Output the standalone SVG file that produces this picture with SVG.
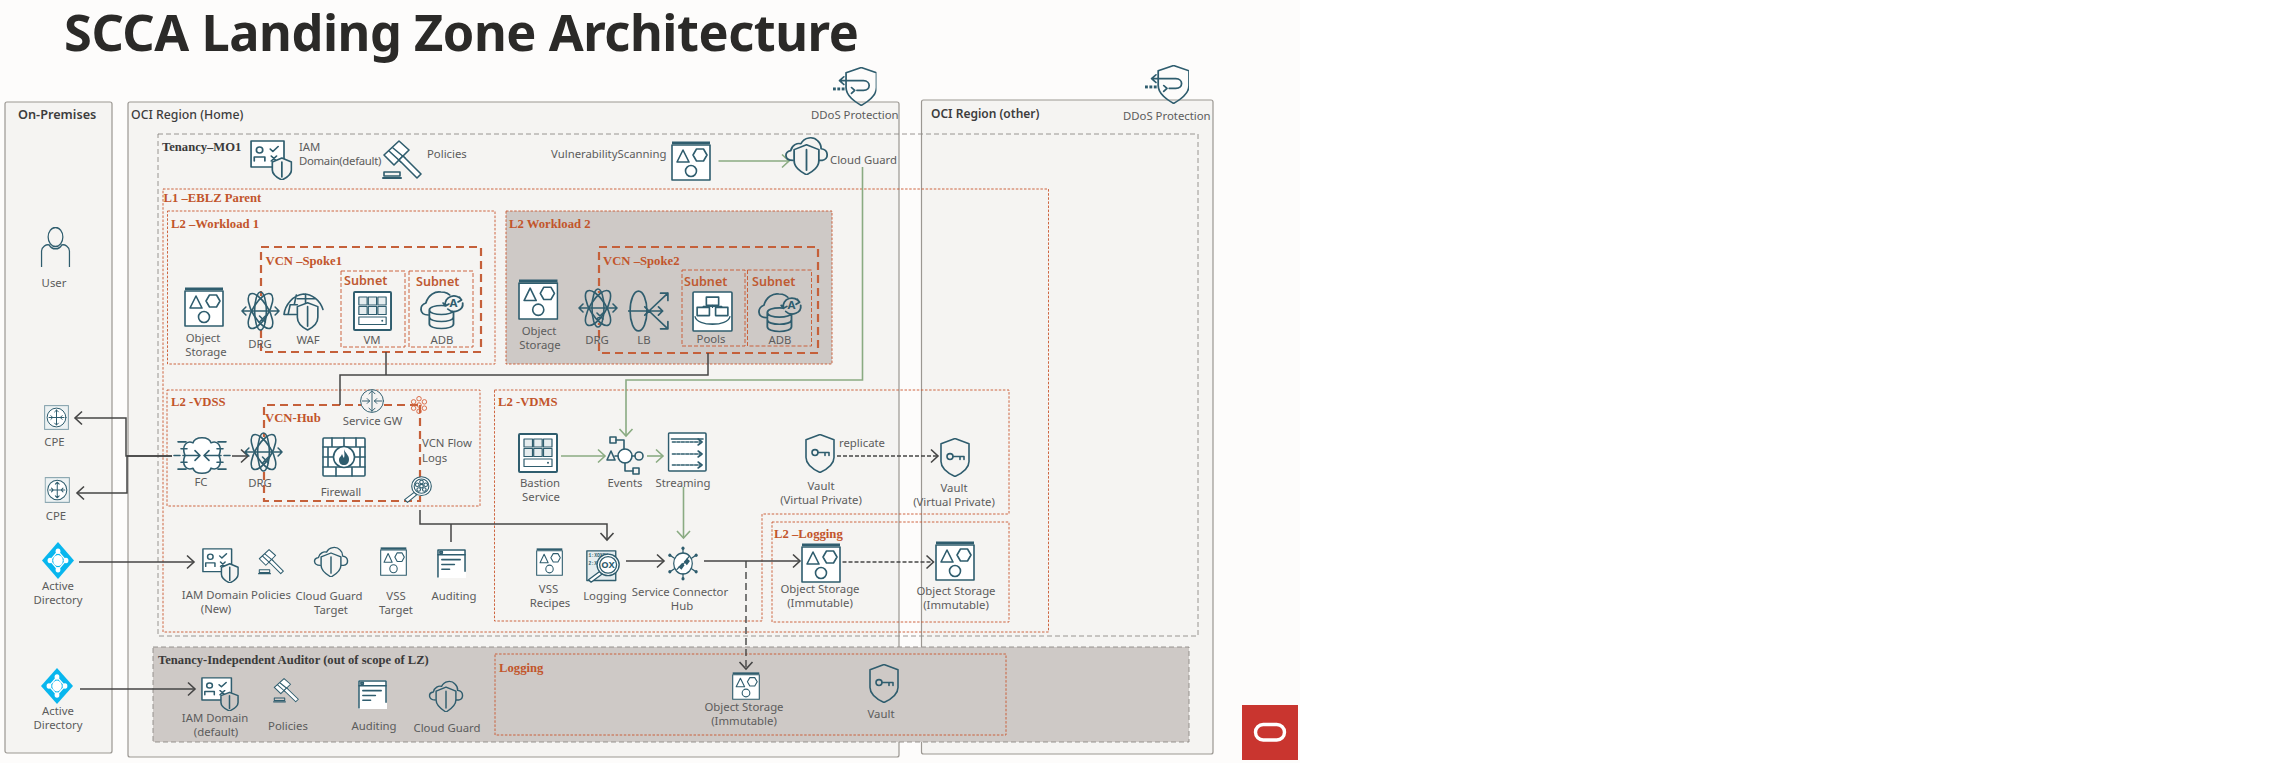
<svg xmlns="http://www.w3.org/2000/svg" width="2281" height="763" viewBox="0 0 2281 763">
<style>
.i{fill:none;stroke:#2f5d6e;stroke-width:1.6;stroke-linejoin:round;stroke-linecap:round}
.w{fill:#fff}.u{fill:currentColor;stroke:none}.f{fill:#2f5d6e;stroke:none}.c{fill:#e6edef}
.t{font:11.35px "Noto Sans","Open Sans",sans-serif;fill:#5c5c5c}
.m{text-anchor:middle}
.h{font:600 12.7px "Noto Sans","Open Sans",sans-serif;fill:#3d3d3d}
.o{font:bold 12.7px "Liberation Serif","Times New Roman",serif;fill:#c2552b}
.s{font:600 12.6px "Noto Sans","Open Sans",sans-serif;fill:#bf5a32}
.k{font:bold 12.6px "Liberation Serif","Times New Roman",serif;fill:#3a3a3a}
.tt{font:bold 50.5px "Noto Sans","Open Sans",sans-serif;fill:#2b2a28;letter-spacing:-.45px}
.panel{fill:#f5f4f2;stroke:#9b9792;stroke-width:1.2}
.ten{fill:none;stroke:#8f8b87;stroke-width:.9;stroke-dasharray:5 3}
.aud{fill:#cec9c6;stroke:#8f8b87;stroke-width:.9;stroke-dasharray:5 3}
.dot{fill:none;stroke:#c9562c;stroke-width:.9;stroke-dasharray:2.5 1.6}
.dg{fill:#cec9c6;stroke:#c9562c;stroke-width:.9;stroke-dasharray:2.5 1.6}
.dsh{fill:none;stroke:#c9562c;stroke-width:.9;stroke-dasharray:4 2}
.vcn{fill:none;stroke:#c5603a;stroke-width:2.2;stroke-dasharray:8 5}
.ln{fill:none;stroke:#454545;stroke-width:1.5}
.gl{fill:none;stroke:#8aab82;stroke-width:1.6}
.da{fill:none;stroke:#454545;stroke-width:1.4;stroke-dasharray:4 2}
.g{color:#cec9c6}.p{color:#f5f4f2}
</style>
<defs>
<marker id="ma" markerUnits="userSpaceOnUse" markerWidth="12" markerHeight="16" refX="9" refY="8" orient="auto"><path d="M2 1.5 L9 8 L2 14.500" fill="none" stroke="#454545" stroke-width="1.6"/></marker>
<marker id="mg" markerUnits="userSpaceOnUse" markerWidth="12" markerHeight="16" refX="9" refY="8" orient="auto"><path d="M2 1.5 L9 8 L2 14.500" fill="none" stroke="#8aab82" stroke-width="1.6"/></marker>
<symbol id="s-os" viewBox="0 0 40 40" preserveAspectRatio="none"><g class="i"><rect class="w" x="1" y="4" width="38" height="35"/><rect class="f" x="1" y=".5" width="38" height="2.600"/><path d="M6 21 12 9 18 21Z"/><path d="M22 14l3.500-6h7l3.500 6-3.500 6h-7z"/><circle cx="20" cy="30" r="5.500"/></g></symbol>
<symbol id="s-drg" viewBox="0 0 40 40" preserveAspectRatio="none"><g class="i"><circle class="u" cx="20" cy="20" r="15"/><ellipse cx="20" cy="20" rx="8" ry="20" transform="rotate(32 20 20)"/><ellipse cx="20" cy="20" rx="8" ry="20" transform="rotate(-32 20 20)"/><ellipse cx="20" cy="20" rx="6" ry="19"/><path d="M1 20H39M5 16 1 20 5 24M35 16 39 20 35 24M19 25l6 6m0-6-6 6"/></g></symbol>
<symbol id="s-waf" viewBox="0 0 40 40" preserveAspectRatio="none"><g class="i"><path d="M1 23C2 13 10 3 20 2 28 2 36 8 39 18M1 23H13M7 13H14M13 3 11 13M7 13 5 23M22 2V11M14 7H32"/><path class="u" d="M24 11 34 15V26C34 33 28 37 24 39 20 37 14 33 14 26V15Z"/><path d="M24 11 34 15V26C34 33 28 37 24 39 20 37 14 33 14 26V15ZM24 15V35"/></g></symbol>
<symbol id="s-vm" viewBox="0 0 40 40" preserveAspectRatio="none"><g class="i"><rect class="w" x="1" y="1" width="38" height="38" rx="1" stroke-width="2"/><g stroke-width="1.200"><rect class="c" x="6" y="6" width="8.500" height="8"/><rect class="c" x="15.700" y="6" width="8.500" height="8"/><rect class="c" x="25.500" y="6" width="8.500" height="8"/><rect class="c" x="6" y="15.500" width="8.500" height="8"/><rect class="c" x="15.700" y="15.500" width="8.500" height="8"/><rect class="c" x="25.500" y="15.500" width="8.500" height="8"/><rect x="6" y="26" width="28" height="7.500"/></g><circle class="f" cx="30" cy="29.700" r="1"/></g></symbol>
<symbol id="s-adb" viewBox="0 0 40 40" preserveAspectRatio="none"><g class="i"><path d="M8 25C0 25 0 15 6 13 8 5 14 1 19 2 24 2 27 5 28 7"/><path class="u" d="M9 20C9 14 30 14 30 20V34C30 40 9 40 9 34Z"/><path d="M9 20C9 14 30 14 30 20 30 26 9 26 9 20ZM9 20V34C9 40 30 40 30 34V20M9 27C9 33 30 33 30 27"/><path class="u" d="M22 13A8 8 0 0 1 38 13 8 8 0 0 1 22 13"/><path d="M23 15A7.500 7.500 0 0 1 37 10M38 13A7.500 7.500 0 0 1 25 19M35 7 37 10 34 12M21 13 23 16 26 14"/></g><text x="30" y="17" text-anchor="middle" style="font:bold 10px 'Noto Sans',sans-serif;fill:#2f5d6e">A</text></symbol>
<symbol id="s-lb" viewBox="0 0 40 40" preserveAspectRatio="none"><g class="i"><ellipse cx="10" cy="20" rx="8" ry="19"/><path d="M0 20H20M16 16 20 20 16 24M20 20 38 3M31 3H38V10M20 20 38 37M31 37H38V30M20 20H33M29 16 33 20 29 24"/></g></symbol>
<symbol id="s-pools" viewBox="0 0 40 40" preserveAspectRatio="none"><g class="i"><rect class="w" x="1" y="1" width="38" height="38" rx="1"/><rect x="14" y="6" width="12" height="8"/><rect x="5" y="16" width="12" height="8"/><rect x="23" y="16" width="12" height="8"/><path d="M20 14V16M11 16V15H29V16M3 25C5 35 35 35 37 25M14 32H26" stroke-width="1.300"/></g></symbol>
<symbol id="s-iam" viewBox="0 0 40 40" preserveAspectRatio="none"><g class="i"><rect class="w" x="1" y="1" width="31" height="26"/><circle cx="9" cy="10" r="3"/><path d="M4 21V17H14V21"/><path d="M19 9l2.500 2.500 5-5M20 16l5 5m0-5-5 5"/><path class="u" d="M30 18l9 4v8c0 5-5 8-9 10-4-2-9-5-9-10v-8z"/><path d="M30 18l9 4v8c0 5-5 8-9 10-4-2-9-5-9-10v-8zM30 22V37"/></g></symbol>
<symbol id="s-ham" viewBox="0 0 40 40" preserveAspectRatio="none"><g class="i"><path class="w" d="M2 15 17 1 27 10 12 25Z"/><path d="M7 11 19 22M11 8 23 18"/><path class="w" d="M17 20 21 16 39 34 35 38Z"/><rect x="2" y="32" width="16" height="4"/><path d="M1 38H19" stroke-width="2"/></g></symbol>
<symbol id="s-cg" viewBox="0 0 40 40" preserveAspectRatio="none"><g class="i"><path d="M8 25C0 25 0 16 6 15 7 9 12 7 15 8 18 1 26 0 30 5 33 8 33 11 33 13 40 14 40 24 34 25H30"/><path class="u" d="M20 9 31 14V25C31 33 24 37 20 40 16 37 9 33 9 25V14Z"/><path d="M20 9 31 14V25C31 33 24 37 20 40 16 37 9 33 9 25V14ZM20 14V35"/></g></symbol>
<symbol id="s-ddos" viewBox="0 0 40 40" preserveAspectRatio="none"><g class="i"><path d="M26 .5 40 6V21C40 30 31 36 26 39.500 21 36 12 30 12 21V6Z"/><path d="M6 14H28C35 14 35 24 28 24H22M10 10 6 14 10 18M17 21 20 24 17 27"/><rect class="f" x="0" y="21" width="2.600" height="3"/><rect class="f" x="4" y="21" width="2.600" height="3"/><rect class="f" x="8" y="21" width="2.600" height="3"/></g></symbol>
<symbol id="s-user" viewBox="0 0 40 40" preserveAspectRatio="none"><g class="i"><circle cx="20" cy="10" r="9.500"/><path d="M2 40V24C2 20 8 17 12 18 15 23 25 23 28 18 32 17 38 20 38 24V40"/></g></symbol>
<symbol id="s-cpe" viewBox="0 0 40 40" preserveAspectRatio="none"><rect x="1" y="1" width="38" height="38" fill="#edf2f3" stroke="#7f9ea9" stroke-width="1.600"/><g class="i"><circle class="w" cx="20" cy="20" r="15"/><path d="M20 8V32M8 20H32M17 11 20 8 23 11M17 29 20 32 23 29M11 17 14 20 11 23M29 17 26 20 29 23"/></g></symbol>
<symbol id="s-ad" viewBox="0 0 40 40" preserveAspectRatio="none"><path d="M20 0 40 20 20 40 0 20Z" fill="#08b6ee"/><path d="M20 10 30 20 20 30 10 20Z" fill="none" stroke="#fff" stroke-width="1.500"/><circle cx="20" cy="20" r="6" fill="#fff"/><circle cx="20" cy="10" r="3" fill="#fff"/><circle cx="20" cy="30" r="3" fill="#fff"/><circle cx="10" cy="20" r="3" fill="#fff"/><circle cx="30" cy="20" r="3" fill="#fff"/></symbol>
<symbol id="s-sgw" viewBox="0 0 40 40" preserveAspectRatio="none"><g class="i"><circle class="u" cx="20" cy="20" r="19"/><circle cx="20" cy="20" r="19"/><path d="M20 3V37M15 8 20 3 25 8M15 32 20 37 25 32M4 20H16M12 16 16 20 12 24M36 20H24M28 16 24 20 28 24"/></g></symbol>
<symbol id="s-fl" viewBox="0 0 40 40" preserveAspectRatio="none"><g fill="none" stroke="#d9613a" stroke-width="2"><circle cx="20" cy="20" r="5"/><circle cx="20" cy="6" r="5"/><circle cx="32" cy="13" r="5"/><circle cx="32" cy="27" r="5"/><circle cx="20" cy="34" r="5"/><circle cx="8" cy="27" r="5"/><circle cx="8" cy="13" r="5"/></g></symbol>
<symbol id="s-mag" viewBox="0 0 40 40" preserveAspectRatio="none"><g class="i"><path class="w" d="M15 24 1 35 5 39 18 28Z"/><circle class="w" cx="25" cy="15" r="14"/><circle cx="25" cy="15" r="10.500"/><circle cx="25" cy="15" r="2.600"/><circle cx="25" cy="9" r="2.600"/><circle cx="31" cy="13" r="2.600"/><circle cx="29" cy="20" r="2.600"/><circle cx="21" cy="20" r="2.600"/><circle cx="19" cy="13" r="2.600"/></g></symbol>
<symbol id="s-fc" viewBox="0 0 58 40" preserveAspectRatio="none"><g class="i"><path class="w" d="M20 7C22 0 36 0 38 7 44 4 50 10 46 20 50 30 44 36 38 33 36 40 22 40 20 33 14 36 8 30 12 20 8 10 14 4 20 7Z"/><path d="M10 20H26M22 15 27 20 22 25M48 20H32M36 15 31 20 36 25M5 6H13M8 13H14M1 20H7M8 27H14M5 34H13M45 6H53M44 13H50M51 20H57M44 27H50M45 34H53"/></g></symbol>
<symbol id="s-fw" viewBox="0 0 44 40" preserveAspectRatio="none"><g class="i" stroke-width="2"><rect class="w" x="1" y="1" width="42" height="38" rx="1"/><path d="M1 10H43M1 20H43M1 30H43M10 1V10M22 1V10M34 1V10M6 10V20M38 10V20M6 20V30M38 20V30M14 30V39M30 30V39"/><circle class="w" cx="22" cy="20" r="10.500"/><path class="f" d="M22 12C23 16 27 18 27 22 27 26 25 28 22 28 19 28 17 26 17 23 17 20 19 20 20 17 21 19 21 20 22 21 23 18 22 15 22 12Z"/></g></symbol>
<symbol id="s-aud" viewBox="0 0 30 30" preserveAspectRatio="none"><rect x="0" y="0" width="30" height="30" fill="#fff"/><g class="i" stroke-width="1.100"><path d="M1 29V1H29V23"/><path d="M1 6H29"/><rect x="3" y="2.500" width="2.500" height="2"/><path d="M5 11H24M5 16H18M5 21H13"/></g></symbol>
<symbol id="s-ev" viewBox="0 0 38 40" preserveAspectRatio="none"><g class="i"><circle class="w" cx="19" cy="20" r="7"/><path d="M1 24 5 15 9 24ZM9 20H12M26 20H29"/><circle cx="33" cy="20" r="4"/><rect x="4" y="1" width="6" height="6"/><path d="M10 4H18V13M19 27V35H27"/><rect x="27" y="32" width="6" height="6"/></g></symbol>
<symbol id="s-st" viewBox="0 0 40 40" preserveAspectRatio="none"><g class="i"><rect class="w" x="1" y="1" width="38" height="38" rx="1"/><path d="M4 7H36"/><path stroke-dasharray="3 1.500" d="M5 11H33M5 23H33M5 34H33" transform="translate(0 -1)"/><path d="M31 7 35 10 31 13M31 19 35 22 31 25M31 30 35 33 31 36"/></g></symbol>
<symbol id="s-v" viewBox="0 0 30 40" preserveAspectRatio="none"><g class="i"><path class="u" d="M15 .5 29 6V24C29 32 20 37 15 39.500 10 37 1 32 1 24V6Z"/><path d="M15 .5 29 6V24C29 32 20 37 15 39.500 10 37 1 32 1 24V6Z"/><circle cx="10" cy="19" r="3"/><path d="M13 19H24V22M20 19V22"/></g></symbol>
<symbol id="s-log" viewBox="0 0 40 40" preserveAspectRatio="none"><g class="i"><rect class="c" x="1" y="1" width="34" height="36"/></g><text x="3" y="9" style="font:bold 5.500px 'Liberation Mono',monospace;fill:#2f5d6e">1:XOXOY</text><text x="3" y="18" style="font:bold 5.500px 'Liberation Mono',monospace;fill:#2f5d6e">2:X</text><g class="i"><path class="w" d="M16 26 3 36 6 39 19 29Z"/><circle class="w" cx="26" cy="18" r="13"/><circle cx="26" cy="18" r="10"/></g><text x="26" y="22" text-anchor="middle" style="font:bold 11px 'Noto Sans',sans-serif;fill:#2f5d6e">OX</text></symbol>
<symbol id="s-sch" viewBox="0 0 40 40" preserveAspectRatio="none"><g class="i"><circle class="w" cx="20" cy="20" r="12"/><path d="M20 8V3M20 32V37M9 14 4 11M31 14 36 11M9 26 4 29M31 26 36 29"/><circle class="f" cx="20" cy="2.500" r="2"/><circle class="f" cx="20" cy="37.500" r="2"/><circle class="f" cx="3" cy="10.500" r="2"/><circle class="f" cx="37" cy="10.500" r="2"/><circle class="f" cx="3" cy="29.500" r="2"/><circle class="f" cx="37" cy="29.500" r="2"/><path class="f" d="M14 24 19 19 22 22 18 27ZM21 18 25 14 29 17 25 22Z"/><path d="M12 27 15 24M25 15 28 12M19 22 22 19"/></g></symbol>
</defs>
<rect id="page" x="0" y="0" width="1300" height="763" fill="#fdfcfb"/>
<text id="title" class="tt" x="64" y="51">SCCA Landing Zone Architecture</text>

<g id="containers">
<g id="on-premises"><rect class="panel" x="5" y="102" width="107" height="651" rx="2"/><text class="h" x="18" y="119">On-Premises</text></g>
<g id="oci-region-home"><rect class="panel" x="128" y="102" width="771" height="655" rx="2"/><text class="t" x="131" y="119" style="font-weight:500;fill:#3d3d3d;font-size:12.3px">OCI Region (Home)</text></g>
<g id="oci-region-other"><rect class="panel" x="921.500" y="100" width="291.500" height="654" rx="2"/><text class="h" x="931" y="118" style="font-size:12px">OCI Region (other)</text></g>
<g id="tenancy-mo1"><rect class="ten" x="158" y="134" width="1040" height="502"/><text class="k" x="162" y="151">Tenancy–MO1</text></g>
<g id="l1-eblz"><rect class="dot" x="163" y="189" width="885.500" height="443"/><text class="o" x="163.500" y="202">L1 –EBLZ Parent</text></g>
<g id="l2-workload1"><rect class="dot" x="167.500" y="211" width="327.500" height="153"/><text class="o" x="171" y="228">L2 –Workload 1</text></g>
<g id="l2-workload2"><rect class="dg" x="506" y="211" width="326" height="153"/><text class="o" x="509" y="228">L2 Workload 2</text></g>
<g id="vcn-spoke1"><rect class="vcn" x="261" y="247" width="220" height="105"/><text class="o" x="265.500" y="265">VCN –Spoke1</text></g>
<g id="subnet-vm"><rect class="dsh" x="341" y="271" width="64" height="76"/><text class="s" x="344" y="285">Subnet</text></g>
<g id="subnet-adb1"><rect class="dsh" x="409" y="271" width="64" height="76"/><text class="s" x="416" y="286">Subnet</text></g>
<g id="vcn-spoke2"><rect class="vcn" x="599" y="247" width="219" height="106"/><text class="o" x="603" y="265">VCN –Spoke2</text></g>
<g id="subnet-pools"><rect class="dsh" x="682" y="270" width="63" height="76"/><text class="s" x="684" y="286">Subnet</text></g>
<g id="subnet-adb2"><rect class="dsh" x="747.500" y="270" width="64" height="76"/><text class="s" x="752" y="286">Subnet</text></g>
<g id="l2-vdss"><rect class="dot" x="167" y="390" width="313" height="116"/><text class="o" x="171" y="406">L2 -VDSS</text></g>
<g id="vcn-hub"><path class="vcn" d="M420 405V501H264V405H420"/><text class="o" x="265" y="422">VCN-Hub</text></g>
<g id="l2-vdms"><path class="dot" d="M494.500 390H1009V514H762V621H494.500Z"/><text class="o" x="498" y="406">L2 -VDMS</text></g>
<g id="l2-logging"><rect class="dot" x="772" y="522" width="237" height="100"/><text class="o" x="774" y="538">L2 –Logging</text></g>
<g id="tenancy-auditor"><rect class="aud" x="153" y="647" width="1036" height="95"/><text class="k" x="158" y="664">Tenancy-Independent Auditor (out of scope of LZ)</text></g>
<g id="logging-auditor"><rect class="dot" x="495" y="654" width="511" height="81"/><text class="o" x="499" y="672">Logging</text></g>
</g>

<g id="connectors">
<path class="gl" marker-end="url(#mg)" d="M718.500 161H789"/>
<path class="gl" marker-end="url(#mg)" d="M862.500 167V380H626V436"/>
<path class="ln" d="M386 352V375M708 353V375H340V405"/>
<path class="ln" marker-end="url(#ma)" d="M172 456H126V418H75"/>
<path class="ln" marker-end="url(#ma)" d="M172 456H127V493H77"/>
<path class="ln" marker-end="url(#ma)" d="M232 456H248"/>
<path class="ln" marker-end="url(#ma)" d="M79 562H194"/>
<path class="ln" marker-end="url(#ma)" d="M80 689H195"/>
<path class="ln" marker-end="url(#ma)" d="M420 510V524H607V540"/>
<path class="ln" d="M451 542V524"/>
<path class="gl" marker-end="url(#mg)" d="M561 456H605"/>
<path class="gl" marker-end="url(#mg)" d="M647 456H663"/>
<path class="gl" marker-end="url(#mg)" d="M683.500 487V538"/>
<path class="da" marker-end="url(#ma)" d="M837 456H938"/>
<path class="ln" marker-end="url(#ma)" d="M626 561H664"/>
<path class="ln" marker-end="url(#ma)" d="M704 561H800"/>
<path class="da" marker-end="url(#ma)" d="M746 561V669" style="stroke-dasharray:7 4"/>
<path class="da" marker-end="url(#ma)" d="M842.500 562H933.500"/>
</g>

<g id="ddos-home"><use href="#s-ddos" x="833" y="67" width="43.500" height="39"/><text class="t" x="811" y="119">DDoS Protection</text></g>
<g id="ddos-other"><use href="#s-ddos" x="1145" y="65" width="44" height="39"/><text class="t" x="1123" y="120">DDoS Protection</text></g>
<g id="iam-default" class="p"><use href="#s-iam" x="250" y="140" width="42.500" height="40"/><text class="t" x="299" y="151">IAM</text></g>
<g id="policies-top"><use href="#s-ham" x="382" y="140" width="40" height="40"/><text class="t" x="427" y="158">Policies</text></g>
<text id="iam-default-label" class="t" x="299" y="165" style="letter-spacing:-.3px">Domain(default)</text>
<g id="vuln-scanning"><use href="#s-os" x="671" y="141" width="40" height="40"/><text class="t" x="551" y="158">VulnerabilityScanning</text></g>
<g id="cloud-guard-top" class="p"><use href="#s-cg" x="784" y="136" width="45" height="39"/><text class="t" x="830" y="164">Cloud Guard</text></g>
<g id="user-node"><use href="#s-user" x="40" y="227" width="31" height="40"/><text class="t m" x="54" y="287">User</text></g>
<g id="os-w1"><use href="#s-os" x="184" y="287" width="40" height="40"/><text class="t m" x="203" y="342">Object</text><text class="t m" x="206" y="356">Storage</text></g>
<g id="drg-w1" class="p"><use href="#s-drg" x="241" y="291" width="39" height="40"/><text class="t m" x="260" y="348">DRG</text></g>
<g id="waf-node" class="p"><use href="#s-waf" x="283" y="292" width="41" height="39"/><text class="t m" x="308" y="344">WAF</text></g>
<g id="vm-node"><use href="#s-vm" x="353" y="291" width="39" height="40"/><text class="t m" x="372" y="344">VM</text></g>
<g id="adb1" class="p"><use href="#s-adb" x="419" y="290" width="46" height="40"/><text class="t m" x="442" y="344">ADB</text></g>
<g id="os-w2"><use href="#s-os" x="518" y="279" width="40.500" height="41"/><text class="t m" x="539" y="335">Object</text><text class="t m" x="540" y="349">Storage</text></g>
<g id="drg-w2" class="g"><use href="#s-drg" x="578" y="288" width="40" height="40"/><text class="t m" x="597" y="344">DRG</text></g>
<g id="lb-node"><use href="#s-lb" x="628" y="290" width="42" height="42"/><text class="t m" x="644" y="344">LB</text></g>
<g id="pools-node"><use href="#s-pools" x="692" y="291" width="41" height="41"/><text class="t m" x="711" y="343">Pools</text></g>
<g id="adb2" class="g"><use href="#s-adb" x="757" y="292" width="46" height="41"/><text class="t m" x="780" y="344">ADB</text></g>
<g id="cpe1"><use href="#s-cpe" x="44" y="405" width="25" height="25"/><text class="t m" x="54.500" y="446">CPE</text></g>
<g id="cpe2"><use href="#s-cpe" x="44.500" y="477" width="25.500" height="26"/><text class="t m" x="56" y="520">CPE</text></g>
<g id="service-gw" class="p"><use href="#s-sgw" x="360" y="389" width="24" height="24"/><text class="t m" x="372.500" y="425">Service GW</text></g>
<g id="flow-icon"><use href="#s-fl" x="410" y="396" width="18" height="18"/></g>
<g id="vcn-flow-logs"><use href="#s-mag" x="404" y="476" width="28" height="27"/><text class="t" x="422" y="447">VCN Flow</text><text class="t" x="422" y="462">Logs</text></g>
<g id="fc-node"><use href="#s-fc" x="173" y="436" width="58" height="39"/><text class="t m" x="201" y="486">FC</text></g>
<g id="drg-hub" class="p"><use href="#s-drg" x="244" y="432" width="39" height="40"/><text class="t m" x="260" y="487">DRG</text></g>
<g id="firewall"><use href="#s-fw" x="322" y="437" width="44" height="40"/><text class="t m" x="341" y="496">Firewall</text></g>
<g id="ad1"><use href="#s-ad" x="42" y="542" width="32" height="37"/><text class="t m" x="58" y="590">Active</text><text class="t m" x="58" y="604">Directory</text></g>
<g id="iam-new" class="p"><use href="#s-iam" x="202" y="548" width="37" height="35"/><text class="t m" x="215" y="599">IAM Domain</text><text class="t m" x="216" y="613">(New)</text></g>
<g id="policies-new"><use href="#s-ham" x="258" y="549" width="26" height="26"/><text class="t m" x="271" y="599">Policies</text></g>
<g id="cg-target" class="p"><use href="#s-cg" x="313" y="546" width="36" height="31"/><text class="t m" x="329" y="600">Cloud Guard</text><text class="t m" x="331" y="614">Target</text></g>
<g id="vss-target"><use href="#s-os" x="380" y="547" width="27" height="29"/><text class="t m" x="396" y="600">VSS</text><text class="t m" x="396" y="614">Target</text></g>
<g id="auditing"><use href="#s-aud" x="437" y="549" width="29" height="29"/><text class="t m" x="454" y="600">Auditing</text></g>
<g id="bastion"><use href="#s-vm" x="518" y="433" width="40" height="40"/><text class="t m" x="540" y="487">Bastion</text><text class="t m" x="541" y="501">Service</text></g>
<g id="events"><use href="#s-ev" x="606" y="436" width="38" height="40"/><text class="t m" x="625" y="487">Events</text></g>
<g id="streaming"><use href="#s-st" x="667.500" y="432" width="39.500" height="40"/><text class="t m" x="683" y="487">Streaming</text></g>
<g id="vault1" class="p"><use href="#s-v" x="805" y="434" width="30" height="39"/><text class="t m" x="821" y="490">Vault</text><text class="t m" x="821" y="504">(Virtual Private)</text></g>
<text id="replicate-label" class="t" x="839" y="447">replicate</text>
<g id="vault2" class="p"><use href="#s-v" x="940" y="438" width="30" height="39"/><text class="t m" x="954" y="492">Vault</text><text class="t m" x="954" y="506">(Virtual Private)</text></g>
<g id="vss-recipes"><use href="#s-os" x="536" y="548" width="27" height="28"/><text class="t m" x="548.500" y="593">VSS</text><text class="t m" x="550" y="607">Recipes</text></g>
<g id="logging"><use href="#s-log" x="586" y="550" width="34" height="33"/><text class="t m" x="605" y="600">Logging</text></g>
<g id="sch-node"><use href="#s-sch" x="667.500" y="546" width="31" height="35"/><text class="t m" x="680" y="596">Service Connector</text><text class="t m" x="682" y="610">Hub</text></g>
<g id="os-imm1"><use href="#s-os" x="801" y="543" width="40" height="40"/><text class="t m" x="820" y="593">Object Storage</text><text class="t m" x="820" y="607">(Immutable)</text></g>
<g id="os-imm2"><use href="#s-os" x="935" y="541" width="40" height="40"/><text class="t m" x="956" y="595">Object Storage</text><text class="t m" x="956" y="609">(Immutable)</text></g>
<g id="ad2"><use href="#s-ad" x="41" y="668" width="32" height="36"/><text class="t m" x="58" y="715">Active</text><text class="t m" x="58" y="729">Directory</text></g>
<g id="iam-aud" class="g"><use href="#s-iam" x="201" y="677" width="38" height="34"/><text class="t m" x="215" y="722">IAM Domain</text><text class="t m" x="216" y="736">(default)</text></g>
<g id="policies-aud"><use href="#s-ham" x="273" y="678" width="26" height="25"/><text class="t m" x="288" y="730">Policies</text></g>
<g id="auditing-aud"><use href="#s-aud" x="358" y="680" width="29" height="29"/><text class="t m" x="374" y="730">Auditing</text></g>
<g id="cg-aud" class="g"><use href="#s-cg" x="428" y="680" width="36" height="32"/><text class="t m" x="447" y="732">Cloud Guard</text></g>
<g id="os-aud"><use href="#s-os" x="732" y="672" width="28" height="28"/><text class="t m" x="744" y="711">Object Storage</text><text class="t m" x="744" y="725">(Immutable)</text></g>
<g id="vault-aud" class="g"><use href="#s-v" x="869" y="664" width="30" height="39"/><text class="t m" x="881" y="718">Vault</text></g>
<g id="oracle-logo"><rect x="1242" y="705" width="56" height="55" fill="#c9352f"/><rect x="1255.500" y="724.500" width="29" height="15.500" rx="7.700" fill="none" stroke="#fff" stroke-width="3.400"/></g>
</svg>
